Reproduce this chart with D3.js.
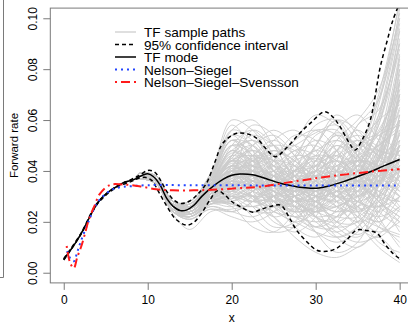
<!DOCTYPE html>
<html>
<head>
<meta charset="utf-8">
<script src="https://cdn.jsdelivr.net/npm/d3@7/dist/d3.min.js"></script>
<style>
  body { margin: 0; background: #fff; }
  svg { display: block; font-family: "Liberation Sans", Arial, Helvetica, sans-serif; }
</style>
</head>
<body>
<svg width="408" height="324"></svg>
<script>
// values
var xTicks = [0, 10, 20, 30, 40];
var yTicks = [0, 0.02, 0.04, 0.06, 0.08, 0.10];

var modeCurve = [[0,0.0052],[0.5,0.0075],[1,0.0098],[1.5,0.0122],[2,0.015],[2.5,0.018],[3,0.0213],[3.5,0.0245],
  [4,0.0272],[4.7,0.030],[5.5,0.0322],[6.3,0.0338],[7,0.0352],[7.9,0.0362],[8.5,0.0368],[9.5,0.0385],[10,0.0389],
  [10.7,0.0377],[11.5,0.0343],[12.3,0.029],[13,0.0262],[13.9,0.0244],[14.6,0.0246],[15.5,0.0265],[16.5,0.0302],
  [17.8,0.034],[19,0.0368],[20,0.0383],[21,0.0388],[22.5,0.0385],[23.4,0.0377],[24.6,0.0364],[26,0.035],
  [27.3,0.0341],[28.7,0.0334],[30.1,0.0332],[31.7,0.0342],[33.3,0.0358],[35,0.0378],[36.5,0.0397],[38,0.0418],
  [39.6,0.044],[40,0.0445]];

var ciUpper = [[0,0.0055],[2,0.0152],[4,0.0274],[6.3,0.034],[8,0.0366],[9,0.0382],[10,0.0402],[10.8,0.0396],
  [11.5,0.0365],[12.3,0.0318],[13.2,0.0283],[14,0.0272],[15,0.0282],[16,0.031],[17,0.0352],[18,0.0435],
  [18.8,0.0502],[19.6,0.053],[20.6,0.0548],[21.8,0.0546],[23,0.0528],[24,0.049],[25.2,0.0456],[26.5,0.049],
  [28.1,0.0548],[29.5,0.0592],[31.1,0.0633],[32.1,0.061],[32.9,0.0574],[34,0.051],[34.7,0.0482],[35.5,0.052],
  [36.5,0.060],[37.7,0.081],[38.5,0.091],[39.2,0.0993],[40,0.106]];

var ciLower = [[0,0.005],[2,0.0148],[4,0.027],[6.3,0.0336],[8,0.0358],[9,0.0372],[9.8,0.0374],[10.5,0.0362],
  [11.3,0.0318],[12.3,0.026],[13.3,0.0212],[14.6,0.0187],[15.5,0.0198],[16.5,0.0238],[17.4,0.0286],[18.3,0.0322],
  [19.1,0.0308],[20,0.028],[21,0.026],[22.5,0.0238],[23.4,0.0248],[24.6,0.026],[25.8,0.0266],[26.8,0.022],
  [27.7,0.0168],[29,0.012],[30.1,0.0089],[31.3,0.0084],[32.5,0.0096],[33.7,0.013],[34.9,0.0168],[36,0.0166],
  [37.3,0.0155],[38.3,0.011],[39.2,0.0076],[40,0.0055]];

var nsCurve = [[0.4,0.0085],[0.8,0.0055],[1.2,0.0045],[1.6,0.008],[2,0.012],[3,0.0205],[4,0.0275],[5,0.031],
  [6,0.033],[7,0.0337],[8,0.034],[10,0.0344],[15,0.0344],[25,0.0343],[40,0.0343]];

var nssCurve = [[0.35,0.0105],[0.75,0.004],[1.2,0.0018],[1.6,0.006],[2.1,0.0105],[2.5,0.015],[3,0.021],
  [3.7,0.0266],[4.3,0.031],[5.5,0.0345],[7,0.0347],[9,0.034],[11,0.0328],[13,0.0324],[17,0.0325],[20.6,0.0332],
  [23.4,0.0338],[27.3,0.0358],[31.3,0.0377],[36.5,0.0397],[39.6,0.0406],[40,0.0407]];

// sample paths: values at these maturities, they follow the mode before x = 9
var pathKnots = [9, 11, 13, 15, 17.5, 20, 22.5, 25, 27.5, 30, 32.5, 35, 37.5, 40];
var samplePaths = [
  [.038,.037,.026,.024,.031,.045,.050,.040,.033,.038,.048,.040,.035,.050],
  [.038,.036,.025,.026,.035,.042,.035,.028,.030,.042,.050,.045,.055,.075],
  [.037,.035,.024,.023,.030,.038,.044,.046,.038,.030,.028,.035,.048,.060],
  [.038,.037,.027,.027,.036,.050,.048,.036,.028,.025,.032,.042,.038,.030],
  [.039,.038,.028,.026,.033,.035,.030,.032,.040,.045,.038,.030,.035,.055],
  [.038,.036,.026,.025,.032,.040,.038,.030,.022,.018,.025,.038,.052,.068],
  [.037,.035,.025,.022,.028,.030,.028,.035,.045,.052,.048,.036,.028,.022],
  [.038,.037,.026,.025,.034,.046,.054,.050,.042,.035,.030,.032,.045,.085],
  [.038,.036,.025,.024,.030,.036,.040,.038,.033,.028,.020,.015,.022,.040],
  [.039,.038,.027,.028,.038,.052,.050,.040,.035,.040,.045,.050,.060,.095],
  [.038,.036,.026,.024,.031,.034,.030,.026,.030,.038,.042,.038,.032,.028],
  [.037,.035,.024,.023,.029,.032,.036,.042,.048,.050,.042,.030,.020,.012],
  [.038,.037,.026,.025,.033,.044,.046,.042,.036,.032,.035,.040,.042,.048],
  [.038,.036,.025,.026,.034,.042,.040,.035,.032,.034,.030,.024,.030,.050],
  [.039,.037,.027,.025,.032,.038,.035,.030,.028,.032,.040,.048,.055,.062],
  [.038,.036,.026,.024,.030,.028,.024,.026,.032,.036,.034,.032,.040,.070],
  [.037,.036,.025,.022,.027,.026,.030,.038,.042,.038,.030,.025,.028,.035],
  [.038,.037,.027,.026,.035,.048,.042,.034,.038,.046,.055,.050,.040,.045],
  [.038,.036,.026,.025,.031,.035,.038,.036,.030,.024,.022,.028,.040,.058],
  [.038,.037,.026,.024,.032,.040,.042,.038,.034,.030,.032,.038,.045,.052],
  [.039,.038,.028,.027,.036,.044,.038,.030,.026,.028,.038,.046,.050,.058],
  [.038,.036,.025,.023,.029,.032,.034,.032,.028,.022,.018,.020,.030,.042],
  [.038,.037,.026,.025,.033,.041,.045,.044,.040,.042,.048,.052,.048,.040],
  [.037,.035,.024,.022,.027,.028,.032,.038,.040,.036,.028,.022,.018,.015],
  [.038,.036,.026,.025,.031,.036,.034,.028,.024,.026,.034,.042,.058,.088],
  [.038,.037,.027,.026,.034,.043,.040,.033,.036,.044,.046,.036,.026,.020],
  [.038,.036,.025,.024,.030,.034,.037,.040,.044,.048,.052,.046,.036,.030],
  [.039,.037,.026,.024,.030,.033,.029,.024,.020,.016,.014,.018,.028,.045],
  [.038,.036,.026,.025,.032,.038,.036,.034,.035,.040,.038,.034,.036,.042],
  [.038,.037,.027,.027,.037,.056,.052,.042,.034,.030,.028,.026,.034,.060],
  [.037,.035,.024,.021,.026,.024,.022,.026,.030,.034,.040,.044,.042,.036],
  [.038,.036,.026,.024,.031,.037,.042,.046,.050,.055,.058,.048,.038,.032],
  [.038,.037,.026,.025,.033,.040,.036,.032,.036,.038,.034,.030,.038,.075],
  [.038,.036,.025,.023,.030,.036,.038,.035,.030,.026,.030,.036,.032,.025],
  [.039,.038,.028,.027,.035,.046,.044,.038,.030,.022,.016,.012,.015,.025],
  [.038,.036,.026,.024,.031,.035,.032,.030,.034,.040,.044,.040,.046,.065],
  [.038,.037,.026,.025,.032,.039,.040,.036,.040,.050,.060,.052,.045,.048],
  [.037,.036,.025,.023,.028,.031,.036,.040,.036,.028,.024,.028,.038,.050],
  [.038,.036,.026,.026,.034,.044,.038,.028,.025,.030,.036,.034,.030,.038],
  [.038,.037,.027,.025,.032,.036,.030,.024,.022,.020,.022,.030,.048,.080],
  [.038,.035,.023,.017,.024,.025,.026,.022,.014,.008,.006,.010,.014,.005],
  [.039,.038,.028,.028,.039,.060,.056,.046,.052,.062,.058,.050,.068,.108],
  [.038,.036,.025,.024,.030,.033,.040,.048,.044,.034,.026,.020,.024,.040],
  [.038,.037,.026,.026,.033,.038,.034,.034,.040,.046,.040,.032,.034,.055],
  [.038,.036,.026,.025,.032,.042,.048,.044,.036,.032,.038,.048,.062,.090],
  [.037,.035,.025,.023,.029,.034,.030,.028,.034,.042,.046,.042,.038,.044],
  [.038,.037,.027,.026,.035,.047,.044,.036,.030,.028,.034,.044,.056,.072],
  [.038,.036,.025,.024,.030,.032,.028,.030,.036,.040,.036,.028,.026,.038],
  [.039,.038,.027,.027,.036,.048,.052,.046,.038,.032,.026,.024,.034,.062],
  [.038,.036,.026,.024,.031,.036,.040,.044,.042,.036,.032,.034,.044,.070],
  [.038,.037,.026,.025,.033,.040,.038,.032,.028,.030,.040,.050,.054,.046],
  [.037,.035,.024,.022,.028,.030,.034,.040,.046,.044,.036,.028,.026,.034],
  [.038,.036,.026,.025,.032,.038,.042,.038,.030,.022,.020,.026,.044,.078],
  [.038,.037,.027,.026,.034,.044,.040,.030,.024,.026,.036,.044,.040,.032],
  [.038,.036,.025,.024,.030,.034,.036,.032,.028,.030,.036,.040,.052,.082],
  [.039,.038,.028,.027,.037,.052,.046,.034,.030,.036,.044,.038,.030,.028],
  [.038,.036,.026,.024,.031,.036,.032,.028,.032,.044,.054,.050,.042,.040],
  [.038,.037,.026,.025,.033,.042,.044,.040,.034,.028,.024,.026,.036,.056],
  [.037,.035,.024,.023,.029,.030,.028,.030,.038,.046,.044,.034,.024,.018],
  [.038,.036,.026,.026,.034,.040,.036,.034,.038,.036,.030,.030,.042,.068],
  [.038,.037,.027,.025,.032,.038,.044,.048,.044,.038,.036,.042,.050,.056],
  [.038,.036,.025,.024,.031,.040,.042,.036,.028,.024,.028,.038,.062,.100],
  [.039,.037,.026,.025,.032,.035,.033,.034,.038,.042,.040,.036,.038,.048],
  [.038,.036,.026,.025,.033,.044,.046,.040,.032,.026,.022,.022,.030,.046],
  [.038,.037,.027,.026,.034,.040,.034,.026,.022,.024,.030,.036,.044,.064],
  [.037,.036,.025,.023,.028,.029,.032,.036,.034,.032,.036,.044,.048,.044],
  [.038,.036,.026,.024,.031,.038,.046,.052,.046,.036,.030,.028,.032,.038],
  [.038,.037,.026,.025,.033,.041,.038,.032,.030,.034,.042,.046,.042,.052],
  [.039,.038,.028,.027,.036,.046,.042,.038,.040,.044,.040,.032,.026,.030],
  [.038,.036,.025,.024,.030,.033,.036,.038,.034,.028,.026,.032,.046,.074],
  [.038,.037,.027,.026,.034,.042,.038,.030,.026,.022,.024,.034,.052,.092],
  [.037,.035,.024,.022,.027,.027,.026,.030,.036,.038,.032,.024,.020,.026],
  [.038,.036,.026,.025,.032,.039,.044,.042,.038,.040,.046,.050,.046,.038],
  [.038,.037,.026,.026,.034,.045,.040,.032,.030,.036,.040,.036,.034,.060],
  [.038,.036,.025,.023,.029,.033,.038,.042,.038,.032,.030,.036,.042,.050],
  [.039,.037,.027,.026,.035,.044,.042,.036,.032,.032,.036,.042,.058,.096],
  [.038,.036,.026,.024,.030,.032,.030,.030,.034,.038,.040,.038,.036,.040],
  [.038,.037,.026,.025,.033,.040,.046,.044,.036,.030,.032,.038,.040,.036],
  [.037,.035,.025,.023,.028,.031,.028,.026,.028,.032,.038,.046,.054,.058],
  [.038,.036,.026,.025,.032,.036,.034,.036,.042,.048,.044,.036,.030,.042],
  [.038,.037,.027,.027,.037,.054,.050,.038,.028,.024,.026,.030,.036,.048],
  [.038,.036,.025,.024,.030,.035,.040,.036,.030,.028,.032,.028,.024,.030],
  [.039,.038,.028,.026,.034,.042,.036,.028,.026,.030,.034,.040,.048,.070],
  [.038,.036,.026,.024,.031,.037,.038,.034,.032,.036,.042,.044,.040,.034],
  [.038,.036,.025,.022,.028,.038,.056,.050,.036,.028,.040,.058,.064,.090],
  [.038,.037,.027,.027,.038,.058,.048,.030,.018,.014,.020,.036,.060,.098],
  [.037,.035,.024,.021,.025,.022,.020,.024,.034,.050,.062,.054,.040,.030],
  [.038,.036,.026,.025,.034,.048,.038,.022,.016,.022,.040,.052,.046,.038],
  [.039,.038,.028,.028,.039,.054,.044,.028,.022,.030,.048,.056,.050,.070],
  [.038,.036,.025,.023,.028,.026,.018,.016,.024,.040,.052,.044,.030,.024],
  [.038,.037,.026,.025,.034,.050,.056,.046,.030,.016,.008,.012,.030,.060],
  [.037,.035,.024,.022,.027,.030,.040,.052,.056,.048,.034,.022,.016,.020],
  [.038,.036,.026,.026,.036,.052,.046,.032,.024,.028,.044,.058,.068,.104],
  [.038,.037,.027,.025,.031,.030,.026,.030,.044,.058,.060,.046,.030,.016],
  [.039,.037,.026,.024,.029,.028,.032,.044,.054,.052,.040,.024,.012,.008],
  [.038,.036,.025,.024,.032,.046,.052,.044,.030,.020,.016,.022,.040,.080],
  [.038,.037,.027,.026,.035,.044,.032,.020,.018,.026,.038,.042,.036,.026],
  [.037,.036,.025,.022,.026,.024,.028,.036,.046,.056,.054,.040,.028,.022],
  [.038,.036,.026,.025,.033,.042,.050,.054,.046,.030,.018,.014,.024,.052],
  [.038,.037,.026,.026,.036,.054,.054,.040,.026,.018,.022,.040,.066,.102],
  [.038,.036,.025,.023,.028,.027,.024,.028,.040,.054,.056,.040,.022,.010],
  [.039,.038,.028,.027,.037,.050,.040,.026,.020,.024,.036,.050,.060,.066],
  [.038,.036,.026,.024,.030,.036,.046,.050,.040,.026,.014,.010,.018,.036],
  [.038,.037,.027,.026,.034,.040,.030,.022,.026,.040,.050,.044,.034,.040],
  [.037,.035,.024,.022,.027,.032,.042,.048,.042,.030,.020,.020,.034,.062],
  [.038,.036,.026,.025,.033,.046,.058,.054,.038,.022,.014,.018,.036,.072],
  [.038,.037,.026,.025,.032,.034,.026,.018,.020,.034,.048,.054,.048,.046],
  [.038,.036,.025,.023,.028,.028,.034,.044,.052,.056,.048,.030,.018,.014],
  [.039,.038,.028,.027,.036,.048,.044,.036,.038,.050,.060,.056,.046,.054],
  [.038,.036,.026,.024,.030,.030,.022,.016,.018,.028,.038,.036,.028,.020],
  [.038,.037,.027,.027,.037,.052,.042,.028,.024,.036,.052,.060,.072,.100],
  [.037,.035,.024,.021,.025,.024,.028,.038,.048,.046,.034,.020,.010,.004],
  [.038,.036,.026,.025,.033,.044,.048,.042,.032,.026,.026,.032,.050,.086],
  [.038,.037,.026,.025,.032,.038,.040,.034,.024,.016,.012,.016,.026,.044],
  [.038,.036,.025,.024,.031,.040,.050,.056,.050,.040,.036,.040,.044,.040],
  [.039,.037,.027,.026,.034,.042,.036,.030,.032,.044,.054,.046,.036,.050],
  [.038,.036,.026,.024,.029,.027,.024,.024,.030,.038,.036,.026,.020,.030],
  [.038,.037,.027,.026,.035,.050,.046,.034,.026,.024,.030,.046,.070,.106],
  [.037,.036,.025,.023,.027,.029,.036,.046,.050,.042,.028,.018,.014,.022],
  [.038,.036,.026,.025,.033,.040,.034,.026,.028,.040,.056,.062,.052,.042],
  [.038,.037,.026,.024,.030,.034,.038,.036,.026,.018,.018,.028,.046,.084],
  [.039,.038,.028,.028,.038,.056,.060,.050,.038,.034,.038,.044,.042,.034],
  [.038,.036,.025,.023,.028,.030,.030,.034,.040,.042,.038,.036,.044,.076],
  [.038,.037,.026,.025,.031,.036,.044,.050,.048,.040,.032,.026,.022,.026]
];

var legendLabels = ["TF sample paths", "95% confidence interval", "TF mode", "Nelson\u2013Siegel", "Nelson\u2013Siegel\u2013Svensson"];

var svg = d3.select("svg");

var plotLeft = 50.3, plotRight = 413.1, plotTop = 8.1, plotBottom = 282.9;

var x = d3.scaleLinear().domain([-1.6, 41.6]).range([plotLeft, plotRight]);
var y = d3.scaleLinear().domain([-0.004, 0.104]).range([plotBottom, plotTop]);

var axisColor = "#7a7a7a";

// edge of the neighbouring panel
svg.append("path")
    .attr("d", "M3.5,0V277.5H0")
    .attr("fill", "none")
    .attr("stroke", axisColor);

svg.append("clipPath")
    .attr("id", "plot-clip")
    .append("rect")
    .attr("x", plotLeft)
    .attr("y", plotTop)
    .attr("width", plotRight - plotLeft)
    .attr("height", plotBottom - plotTop);

var line = d3.line()
    .x(function (d) { return x(d[0]); })
    .y(function (d) { return y(d[1]); })
    .curve(d3.curveCatmullRom.alpha(0.5));

var gLines = svg.append("g").attr("clip-path", "url(#plot-clip)");

var modeStart = modeCurve.filter(function (d) { return d[0] < 9; });

gLines.append("g")
    .selectAll("path")
    .data(samplePaths)
    .enter().append("path")
    .attr("d", function (vals) {
        var pts = modeStart.concat(pathKnots.map(function (k, i) { return [k, vals[i]]; }));
        return line(pts);
    })
    .attr("fill", "none")
    .attr("stroke", "#cccccc")
    .attr("stroke-width", 0.9);

[ciUpper, ciLower].forEach(function (c) {
    gLines.append("path")
        .attr("d", line(c))
        .attr("fill", "none")
        .attr("stroke", "#000")
        .attr("stroke-width", 1.5)
        .attr("stroke-dasharray", "4,3");
});

gLines.append("path")
    .attr("d", line(modeCurve))
    .attr("fill", "none")
    .attr("stroke", "#000")
    .attr("stroke-width", 1.5);

gLines.append("path")
    .attr("d", line(nsCurve))
    .attr("fill", "none")
    .attr("stroke", "#2244ff")
    .attr("stroke-width", 2)
    .attr("stroke-dasharray", "2,4");

gLines.append("path")
    .attr("d", line(nssCurve))
    .attr("fill", "none")
    .attr("stroke", "#ff1a1a")
    .attr("stroke-width", 2)
    .attr("stroke-dasharray", "2,4,9,4");

// box
svg.append("rect")
    .attr("x", plotLeft)
    .attr("y", plotTop)
    .attr("width", plotRight - plotLeft)
    .attr("height", plotBottom - plotTop)
    .attr("fill", "none")
    .attr("stroke", axisColor);

// x axis
var xAxis = svg.append("g")
    .attr("transform", "translate(0," + plotBottom + ")")
    .call(d3.axisBottom(x).tickValues(xTicks).tickSize(7).tickPadding(6).tickFormat(d3.format("d")));
xAxis.select(".domain").remove();
xAxis.selectAll("line").attr("stroke", axisColor);
xAxis.selectAll("text")
    .attr("fill", "#000")
    .style("font-size", "12px")
    .style("font-family", "Liberation Sans, Arial, sans-serif");

// y axis, labels turned like R does
var yAxis = svg.append("g")
    .attr("transform", "translate(" + plotLeft + ",0)")
    .call(d3.axisLeft(y).tickValues(yTicks).tickSize(7).tickFormat(d3.format(".2f")));
yAxis.select(".domain").remove();
yAxis.selectAll("line").attr("stroke", axisColor);
yAxis.selectAll("text")
    .attr("x", null)
    .attr("dy", null)
    .attr("fill", "#000")
    .attr("text-anchor", "middle")
    .attr("transform", "translate(-13,0) rotate(-90)")
    .style("font-size", "12px")
    .style("font-family", "Liberation Sans, Arial, sans-serif");

svg.append("text")
    .attr("x", (plotLeft + plotRight) / 2)
    .attr("y", 322)
    .attr("text-anchor", "middle")
    .style("font-size", "12px")
    .text("x");

svg.append("text")
    .attr("transform", "translate(17.5," + ((plotTop + plotBottom) / 2) + ") rotate(-90)")
    .attr("text-anchor", "middle")
    .style("font-size", "11.5px")
    .text("Forward rate");

// legend
var legendStyles = [
    { color: "#d4d4d4", width: 1.5, dash: null },
    { color: "#000", width: 1.5, dash: "4,3" },
    { color: "#000", width: 1.5, dash: null },
    { color: "#2244ff", width: 2, dash: "2,4" },
    { color: "#ff1a1a", width: 2, dash: "2,4,9,4" }
];

var legend = svg.append("g")
    .attr("transform", "translate(115,32)");

var item = legend.selectAll("g")
    .data(legendLabels)
    .enter().append("g")
    .attr("transform", function (d, i) { return "translate(0," + (i * 12.5) + ")"; });

item.append("line")
    .attr("x1", 0)
    .attr("x2", 21)
    .attr("stroke", function (d, i) { return legendStyles[i].color; })
    .attr("stroke-width", function (d, i) { return legendStyles[i].width; })
    .attr("stroke-dasharray", function (d, i) { return legendStyles[i].dash; });

item.append("text")
    .attr("x", 29)
    .attr("y", 5)
    .style("font-size", "13.6px")
    .text(function (d) { return d; });
</script>
</body>
</html>
